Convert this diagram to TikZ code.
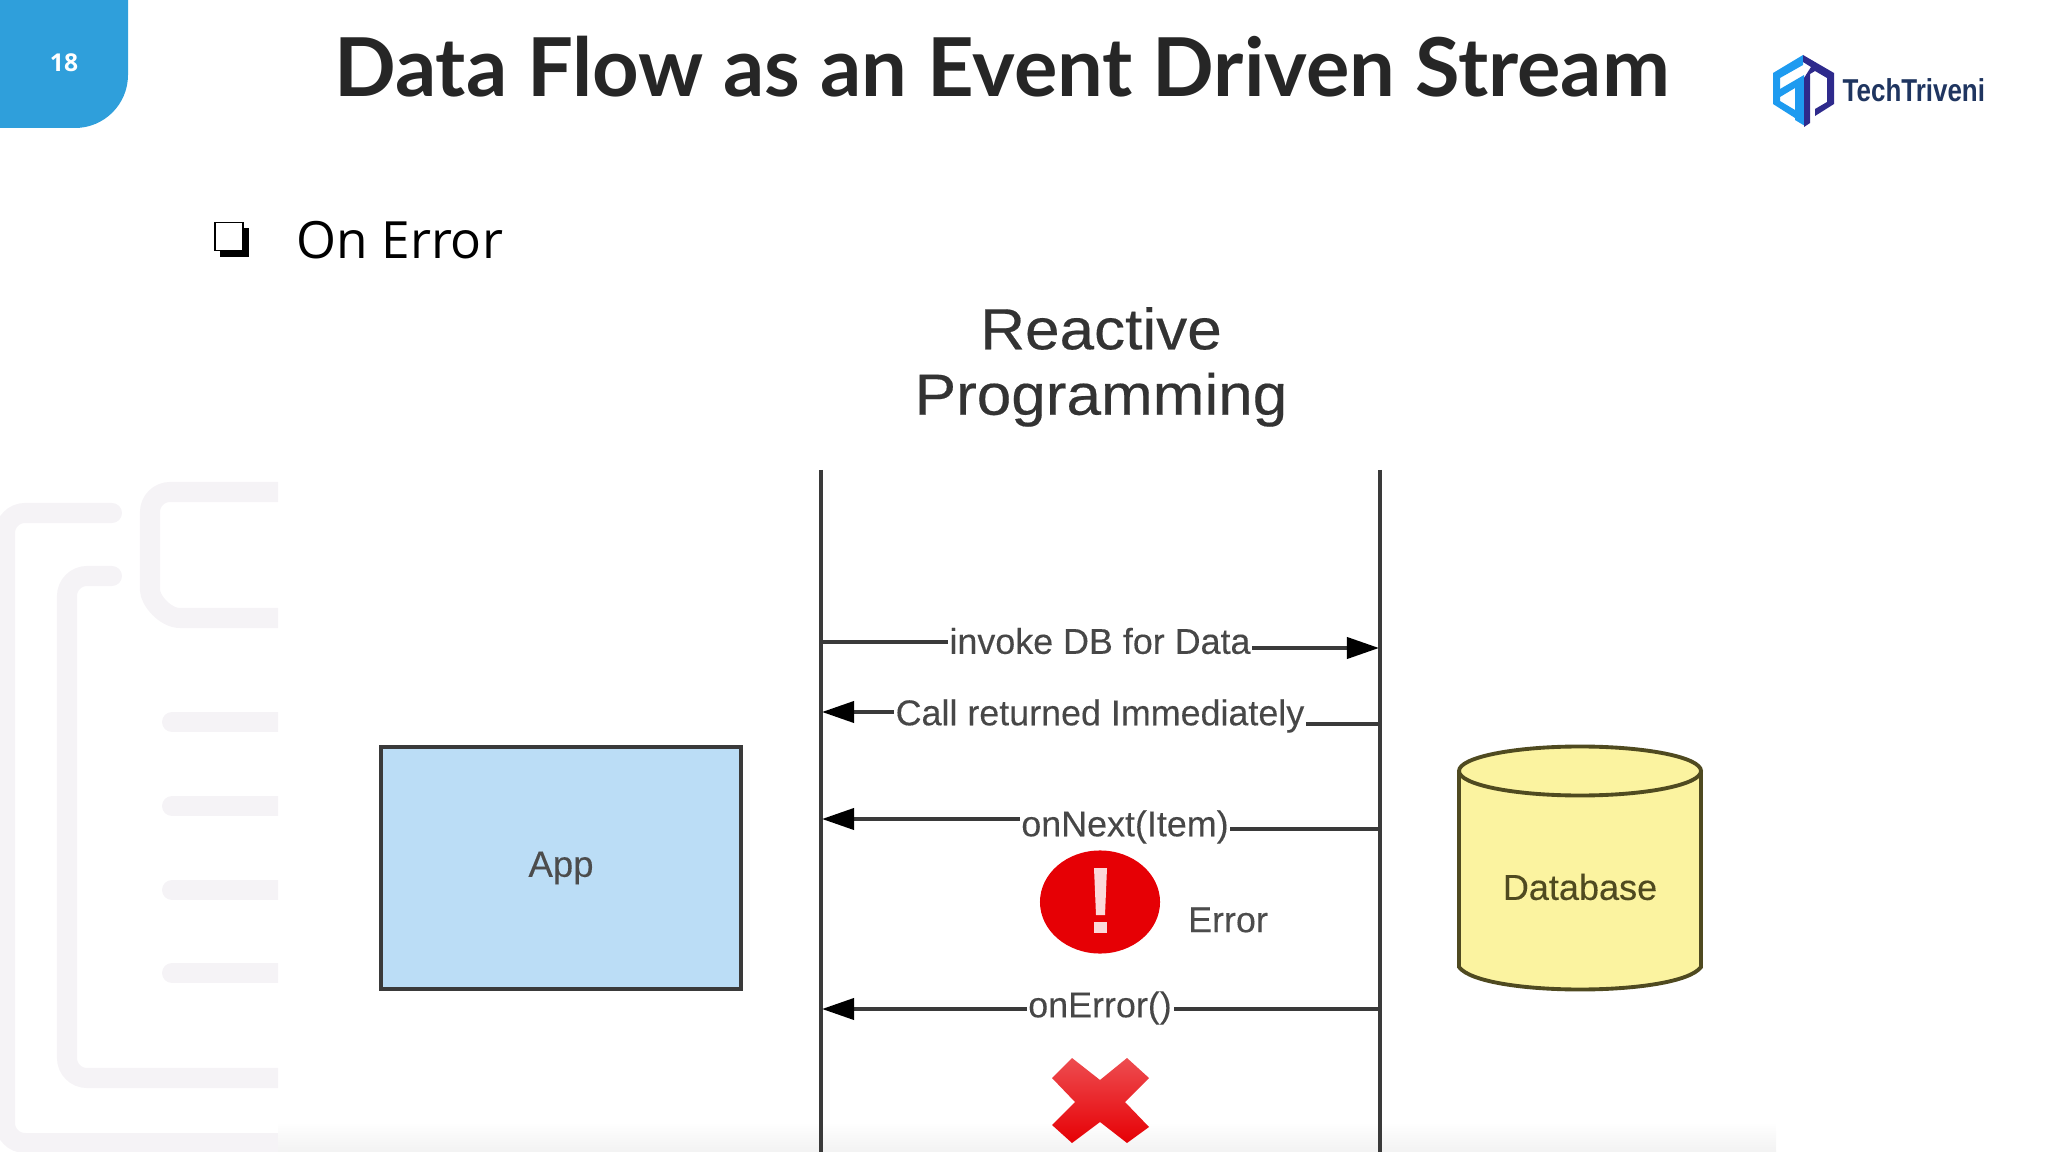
\documentclass[tikz,border=0pt]{standalone}
\usepackage{fontspec}
\setmainfont{Liberation Sans}
\newfontfamily\titlefont{Lato}
\newfontfamily\bulletfont{Open Sans}
\newfontfamily\headfont[FakeStretch=1.07,FakeBold=0.3]{Liberation Sans}
\newfontfamily\shotfont[FakeBold=0.2]{Liberation Sans}
\newfontfamily\logofont[FakeStretch=0.82]{Liberation Sans}
\usetikzlibrary{positioning,arrows.meta,shapes.geometric}
\definecolor{tabblue}{HTML}{2F9FDB}
\definecolor{ghostgrey}{HTML}{F5F3F6}
\definecolor{linegrey}{HTML}{3A3A3A}
\definecolor{appblue}{HTML}{BBDDF6}
\definecolor{dbyellow}{HTML}{FBF3A0}
\definecolor{dbedge}{HTML}{4F4A20}
\definecolor{errred}{HTML}{E60005}
\definecolor{logolight}{HTML}{1E9BF0}
\definecolor{logodark}{HTML}{2E2A8C}
\definecolor{logotext}{HTML}{1F3560}
\begin{document}
\begin{tikzpicture}[
	x=0.01cm,y=-0.01cm,
	ghost/.style={draw=ghostgrey,line width=0.2cm,line cap=round,rounded corners=0.2cm},
	lifeline/.style={draw=linegrey,line width=1.1pt},
	message/.style={draw=linegrey,line width=1.1pt,-{Triangle[length=0.32cm,width=0.21cm,color=black]}},
	msglabel/.style={fill=white,inner sep=0.5pt,font=\shotfont\fontsize{10.2}{12}\selectfont,text=black!72},
]
	\useasboundingbox (0,0) rectangle (2048,1152);
	%% background ornament
	\begin{scope}
		\clip (0,0) rectangle (278,1152);
		\draw[ghost] (112,513) -- (5,513) -- (5,1143) -- (300,1143);
		\draw[ghost] (112,576) -- (67,576) -- (67,1078) -- (300,1078);
		\draw[ghost] (300,492) -- (150,492) -- (150,570) .. controls (150,600) and (165,618) .. (200,618) -- (300,618);
		\foreach \yy in {722,806,890,973}{
			\draw[ghost] (172,\yy) -- (300,\yy);
		}
	\end{scope}
	\shade[top color=white,bottom color=black!5] (278,1122) rectangle (1776,1152);
	%% header
	\path[fill=tabblue] (0,0) -- (128,0) -- (128,75) arc[start angle=0,end angle=90,radius=53] -- (0,128) -- cycle;
	\node[text=white,font=\bulletfont\bfseries\fontsize{7}{8}\selectfont] (pageno) at (64,63) {18};
	\node[text=black!85,font=\titlefont\bfseries\fontsize{23.1}{26}\selectfont] (title) at (1002,67) {Data Flow as an Event Driven Stream};
	\node[fill=black,inner sep=0pt,minimum size=0.29cm] (bulletshadow) at (234.5,242.5) {};
	\node[draw=black,fill=white,line width=0.45pt,inner sep=0pt,minimum size=0.28cm] (bulletbox) at (229,236.5) {};
	\node[anchor=west,inner sep=0pt,font=\bulletfont\fontsize{14.6}{17}\selectfont] (onerror) at (296,240) {On Error};
	%% logo
	\path[fill=logolight] (1803,55) -- (1773,73) -- (1773,104) -- (1795,118) -- (1795,110) -- (1780,101) -- (1780,78) -- (1803,65) -- cycle;
	\path[fill=logolight] (1780,89) -- (1804,75) -- (1805,126) -- (1795,120) -- (1795,88) -- (1780,97) -- cycle;
	\path[fill=logodark] (1803,55) -- (1834,73) -- (1834,104) -- (1815,116) -- (1815,109) -- (1827,102) -- (1827,78) -- (1815,71) -- (1810,74) -- (1810,123) -- (1804,127) -- (1804,78) -- (1811,67) -- (1803,62) -- cycle;
	\node[anchor=west,inner sep=0pt,text=logotext,font=\logofont\bfseries\fontsize{9}{10}\selectfont] (logotext) at (1842,90) {TechTriveni};
	%% diagram
	\node[text=black!80,font=\headfont\fontsize{16.5}{18.6}\selectfont,align=center] (heading) at (1101,367) {Reactive\\Programming};
	\coordinate (appT) at (821,470);
	\coordinate (appB) at (821,1152);
	\coordinate (dbT) at (1380,470);
	\coordinate (dbB) at (1380,1152);
	\draw[lifeline] (appT) -- (appB);
	\draw[lifeline] (dbT) -- (dbB);
	\node[draw=linegrey,line width=1.1pt,fill=appblue,minimum width=3.6cm,minimum height=2.42cm,text=black!70,font=\shotfont\fontsize{10.4}{12}\selectfont] (app) at (561,868) {App};
	% database
	\path[draw=dbedge,fill=dbyellow,line width=1.1pt] (1459,771) -- (1459,967) .. controls (1481,997) and (1679,997) .. (1701,967) -- (1701,771);
	\draw[draw=dbedge,fill=dbyellow,line width=1.1pt] (1580,771) ellipse[x radius=121,y radius=24.5];
	\node[text=dbedge,font=\shotfont\fontsize{10.25}{12}\selectfont] (database) at (1580,887) {Database};
	% messages
	\coordinate (m1a) at (821,642);
	\coordinate (m1b) at (1379,648);
	\coordinate (m2a) at (822,712);
	\coordinate (m2b) at (1380,724);
	\coordinate (m3a) at (822,819);
	\coordinate (m3b) at (1380,829);
	\coordinate (m4a) at (822,1009);
	\coordinate (m4b) at (1380,1009);
	\draw[message] (m1a) -- (950,642) -- (1250,648) -- (m1b);
	\draw[message] (m2b) -- (1300,724) -- (895,712) -- (m2a);
	\draw[message] (m3b) -- (1230,829) -- (1020,819) -- (m3a);
	\draw[message] (m4b) -- (m4a);
	\node[msglabel] (invoke) at (1100,641) {invoke DB for Data};
	\node[msglabel] (returned) at (1100,716) {Call returned Immediately};
	\node[msglabel] (onnext) at (1125,827) {onNext(Item)};
	\node[msglabel] (onerr) at (1100,1008) {onError()};
	% error marks
	\node[ellipse,fill=errred,minimum width=1.2cm,minimum height=1.03cm,inner sep=0pt] (errdot) at (1100,902) {};
	\fill[white!85!errred] (1094,868) -- (1107,868) -- (1105,915) -- (1096,915) -- cycle;
	\fill[white!85!errred] (1094,922) rectangle (1107,933);
	\node[text=black!70,font=\shotfont\fontsize{10.2}{12}\selectfont] (errlabel) at (1228,920) {Error};
	\path[top color=errred!70!white,middle color=errred,bottom color=errred] (1072,1058) -- (1100,1080) -- (1127,1058) -- (1149,1078) -- (1125,1102) -- (1149,1127) -- (1127,1143) -- (1100,1122) -- (1072,1143) -- (1052,1125) -- (1075,1102) -- (1052,1078) -- cycle;
\end{tikzpicture}
\end{document}
